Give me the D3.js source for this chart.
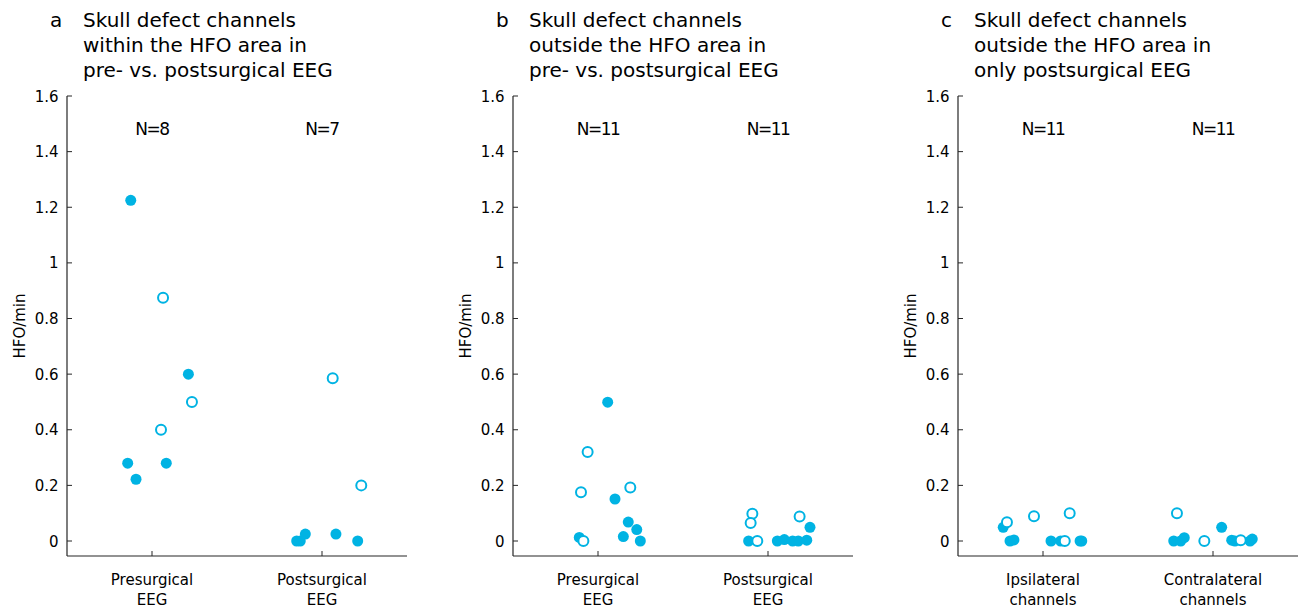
<!DOCTYPE html>
<html>
<head>
  <meta charset="utf-8">
  <script src="https://d3js.org/d3.v7.min.js"></script>
  <style>
    body { margin: 0; background: #fff; }
    svg { display: block; font-family: "DejaVu Sans", sans-serif; }
    .axis line, .axis path { stroke: #262626; }
  </style>
</head>
<body>
  <svg width="1300" height="610"></svg>
  <script>
    // each point: [HFO/min, x jitter (category units), open circle?]
    var aPre = [[1.225,-0.125,0],[0.875,0.065,1],[0.6,0.214,0],[0.5,0.235,1],[0.4,0.053,1],
                [0.28,-0.143,0],[0.28,0.084,0],[0.222,-0.094,0]];
    var aPost = [[0.585,0.063,1],[0.2,0.231,1],[0,-0.149,0],[0,-0.128,0],[0.025,-0.098,0],
                 [0.025,0.082,0],[0,0.21,0]];
    var bPre = [[0.499,0.057,0],[0.32,-0.061,1],[0.175,-0.1,1],[0.192,0.19,1],[0.151,0.1,0],
                [0.068,0.178,0],[0.041,0.228,0],[0.016,0.149,0],[0,0.249,0],[0.013,-0.11,0],[0,-0.086,1]];
    var bPost = [[0.098,-0.092,1],[0.065,-0.102,1],[0,-0.114,0],[0,-0.063,1],[0,0.055,0],
                 [0.005,0.096,0],[0,0.145,0],[0,0.178,0],[0.003,0.228,0],[0.088,0.186,1],[0.049,0.247,0]];
    var cIpsi = [[0.049,-0.234,0],[0.067,-0.212,1],[0,-0.194,0],[0.004,-0.171,0],[0.089,-0.053,1],
                 [0,0.047,0],[0,0.104,0],[0,0.128,1],[0.1,0.157,1],[0,0.218,0],[0,0.228,0]];
    var cContra = [[0.1,-0.212,1],[0,-0.231,0],[0,-0.19,0],[0.012,-0.169,0],[0,-0.051,1],
                   [0.049,0.051,0],[0.003,0.11,0],[0,0.129,0],[0.003,0.163,1],[0,0.218,0],[0.007,0.231,0]];

    var yTicks = [0, 0.2, 0.4, 0.6, 0.8, 1, 1.2, 1.4, 1.6];

    var panels = [
      { letter: "a", left: 67,
        title: ["Skull defect channels", "within the HFO area in", "pre- vs. postsurgical EEG"],
        cats: [["Presurgical", "EEG"], ["Postsurgical", "EEG"]],
        groups: [aPre, aPost] },
      { letter: "b", left: 513,
        title: ["Skull defect channels", "outside the HFO area in", "pre- vs. postsurgical EEG"],
        cats: [["Presurgical", "EEG"], ["Postsurgical", "EEG"]],
        groups: [bPre, bPost] },
      { letter: "c", left: 958,
        title: ["Skull defect channels", "outside the HFO area in", "only postsurgical EEG"],
        cats: [["Ipsilateral", "channels"], ["Contralateral", "channels"]],
        groups: [cIpsi, cContra] }
    ];

    var svg = d3.select("svg");
    var colour = "#00b3e3";
    var axisBottom = 556;

    var y = d3.scaleLinear().domain([0, 1.6]).range([541, 96]);

    panels.forEach(function(p) {
      var x = d3.scaleLinear().domain([0.5, 2.5]).range([p.left, p.left + 340]);
      var g = svg.append("g");

      // title
      g.append("text").attr("x", p.left - 17).attr("y", 27)
        .attr("font-size", "20px").text(p.letter);
      p.title.forEach(function(t, i) {
        g.append("text").attr("x", p.left + 16).attr("y", 27 + i * 25)
          .attr("font-size", "20px").text(t);
      });

      // y axis
      g.append("line").attr("x1", p.left).attr("x2", p.left)
        .attr("y1", y(1.6)).attr("y2", axisBottom)
        .attr("stroke", "#262626").attr("stroke-width", 1.2);
      g.selectAll(".yt").data(yTicks).enter().append("line")
        .attr("x1", p.left).attr("x2", p.left + 5)
        .attr("y1", function(d) { return y(d); }).attr("y2", function(d) { return y(d); })
        .attr("stroke", "#262626").attr("stroke-width", 1);
      g.selectAll(".yl").data(yTicks).enter().append("text")
        .attr("x", p.left - 8.5).attr("y", function(d) { return y(d) + 5.5; })
        .attr("text-anchor", "end").attr("font-size", "15px")
        .text(function(d) { return d3.format("~g")(d); });
      g.append("text")
        .attr("transform", "translate(" + (p.left - 42) + "," + ((96 + axisBottom) / 2) + ") rotate(-90)")
        .attr("text-anchor", "middle").attr("font-size", "15px").text("HFO/min");

      // x axis
      g.append("line").attr("x1", p.left).attr("x2", p.left + 340)
        .attr("y1", axisBottom).attr("y2", axisBottom)
        .attr("stroke", "#262626").attr("stroke-width", 1.2);
      p.cats.forEach(function(c, i) {
        g.append("line").attr("x1", x(i + 1)).attr("x2", x(i + 1))
          .attr("y1", axisBottom).attr("y2", axisBottom - 5)
          .attr("stroke", "#262626");
        c.forEach(function(t, j) {
          g.append("text").attr("x", x(i + 1)).attr("y", 585 + j * 20)
            .attr("text-anchor", "middle").attr("font-size", "15px").text(t);
        });
        g.append("text").attr("x", x(i + 1)).attr("y", 135)
          .attr("text-anchor", "middle").attr("font-size", "17px")
          .attr("letter-spacing", "-1.5px").text("N=" + p.groups[i].length);
      });

      // points: filled first, open on top
      p.groups.forEach(function(pts, i) {
        var filled = pts.filter(function(d) { return !d[2]; });
        var open = pts.filter(function(d) { return d[2]; });
        g.selectAll(null).data(filled).enter().append("circle")
          .attr("cx", function(d) { return x(i + 1 + d[1]); })
          .attr("cy", function(d) { return y(d[0]); })
          .attr("r", 5.5).attr("fill", colour);
        g.selectAll(null).data(open).enter().append("circle")
          .attr("cx", function(d) { return x(i + 1 + d[1]); })
          .attr("cy", function(d) { return y(d[0]); })
          .attr("r", 5).attr("fill", "white")
          .attr("stroke", colour).attr("stroke-width", 2);
      });
    });
  </script>
</body>
</html>
